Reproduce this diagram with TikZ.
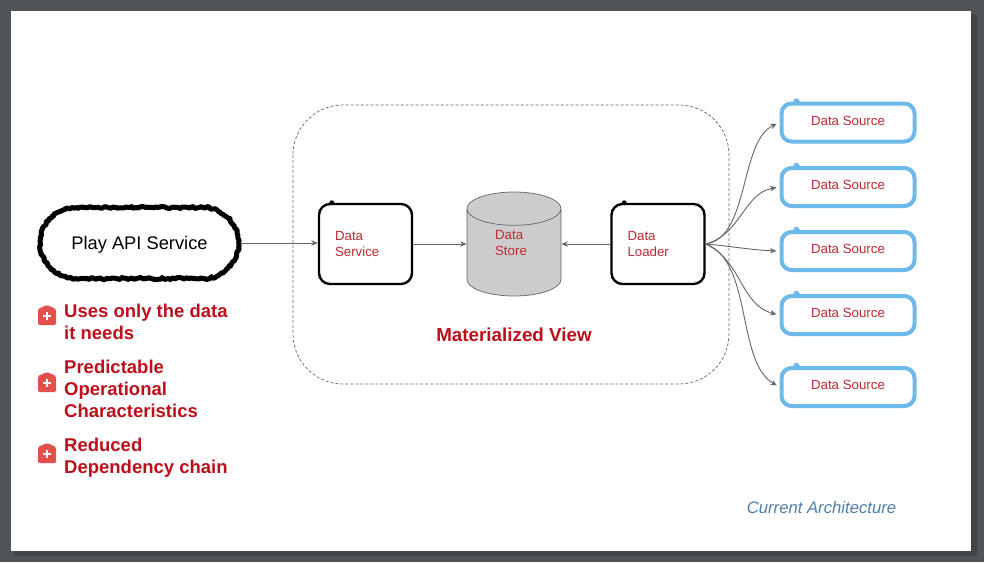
\documentclass[tikz,border=0pt]{standalone}
\usepackage{fontspec}
\setmainfont{Liberation Sans}
\usetikzlibrary{shapes.geometric,shapes.misc,decorations.pathmorphing,arrows.meta}

\definecolor{slidegrey}{HTML}{505457}
\definecolor{shadowgrey}{HTML}{414446}
\definecolor{labelred}{HTML}{BE2A35}
\definecolor{headred}{HTML}{BC0F1B}
\definecolor{iconred}{HTML}{E2504E}
\definecolor{sourceblue}{HTML}{6CBAEA}
\definecolor{linegrey}{HTML}{666666}
\definecolor{notesblue}{HTML}{4F7FA8}

\tikzset{
  service/.style={draw=black,line width=2.4pt,rectangle,rounded corners=11pt,
    minimum width=93pt,minimum height=80pt,inner xsep=16pt,text width=61pt,align=left,
    text=labelred,font=\fontsize{13.3}{16}\selectfont},
  source/.style={draw=sourceblue,line width=4pt,rectangle,rounded corners=10pt,
    minimum width=133pt,minimum height=38pt,text height=9pt,text depth=3.5pt,
    text=labelred,font=\fontsize{13.3}{16}\selectfont},
  link/.style={draw=linegrey,line width=0.9pt,-{Stealth[length=6.5pt,width=5.5pt]}},
  note/.style={anchor=west,align=left,text=headred,inner sep=0pt,
    font=\bfseries\fontsize{18.5}{22}\selectfont},
  plusicon/.pic={
    \fill[iconred,rounded corners=1.5pt] (-9,10) -- (-9,-6) -- (0,-10) -- (9,-6) -- (9,10) -- cycle;
    \draw[white,line width=1.8pt] (-4,1) -- (4,1) (0,-3) -- (0,5);
  }
}

\begin{document}
\begin{tikzpicture}[x=1pt,y=-1pt]
\useasboundingbox (0,0) rectangle (984,562);
\fill[slidegrey] (0,0) rectangle (984,562);
\fill[shadowgrey] (14,14) rectangle (977,556);
\fill[white] (11,11) rectangle (971,551);

% left side
\node[draw=black,line width=5pt,line join=round,rounded rectangle,minimum width=205pt,minimum height=71pt,
  decorate,decoration={random steps,segment length=2pt,amplitude=1.1pt},text depth=5pt,text height=17pt,
  font=\fontsize{18.3}{22}\selectfont] (play) at (139.5,243) {Play API Service};

\pic at (47,315) {plusicon};
\pic at (47,382) {plusicon};
\pic at (47,453) {plusicon};
\node[note] (uses) at (64,322) {Uses only the data\\it needs};
\node[note] (predict) at (64,389) {Predictable\\Operational\\Characteristics};
\node[note] (reduced) at (64,458) {Reduced\\Dependency chain};

% materialized view
\draw[draw=linegrey,line width=0.7pt,dash pattern=on 3pt off 2pt,rounded corners=50pt] (293,105) rectangle (729,384);
\node[service] (dataservice) at (365.5,244) {Data\\Service};
\node[service] (dataloader) at (658,244) {Data\\Loader};
\node[cylinder,shape border rotate=90,aspect=5,draw=linegrey,fill=black!20,line width=0.7pt,
  minimum width=94pt,minimum height=104pt,anchor=shape center] (datastore) at (514,244) {};
\node[align=left,text=labelred,font=\fontsize{13.3}{16}\selectfont] (storelabel) at (511,243) {Data\\Store};
\node[text=headred,font=\bfseries\fontsize{18.8}{22}\selectfont] (matview) at (514,335) {Materialized View};

% data sources
\node[source] (srcone) at (848,122.5) {Data Source};
\node[source] (srctwo) at (848,187) {Data Source};
\node[source] (srcthree) at (848,251) {Data Source};
\node[source] (srcfour) at (848,315) {Data Source};
\node[source] (srcfive) at (848,387) {Data Source};

\node[text=notesblue,font=\itshape\fontsize{16.7}{18}\selectfont] (current) at (821.5,508) {Current Architecture};

% pen blots on the outlines
\fill[black] (dataservice.north west) ++(14,0) circle (2.5pt);
\fill[black] (dataloader.north west) ++(14,0) circle (2.5pt);
\fill[sourceblue] (srcone.north west) ++(17,0) circle (3.2pt);
\fill[sourceblue] (srctwo.north west) ++(17,0) circle (3.2pt);
\fill[sourceblue] (srcthree.north west) ++(17,0) circle (3.2pt);
\fill[sourceblue] (srcfour.north west) ++(17,0) circle (3.2pt);
\fill[sourceblue] (srcfive.north west) ++(17,0) circle (3.2pt);

% connectors
\draw[link] (play.east) -- (play.east -| dataservice.west);
\draw[link] (dataservice.east) -- (datastore.west |- dataservice.east);
\draw[link] (dataloader.west) -- (datastore.east |- dataloader.west);
\draw[link,shorten >=3pt] (dataloader.east) to[out=8,in=205,looseness=0.8] (srcone.west);
\draw[link,shorten >=3pt] (dataloader.east) to[out=15,in=190] (srctwo.west);
\draw[link,shorten >=3pt] (dataloader.east) to[out=-5,in=178] (srcthree.west);
\draw[link,shorten >=3pt] (dataloader.east) to[out=-25,in=166] (srcfour.west);
\draw[link,shorten >=3pt] (dataloader.east) to[out=-20,in=150,looseness=0.8] (srcfive.west);
\end{tikzpicture}
\end{document}
